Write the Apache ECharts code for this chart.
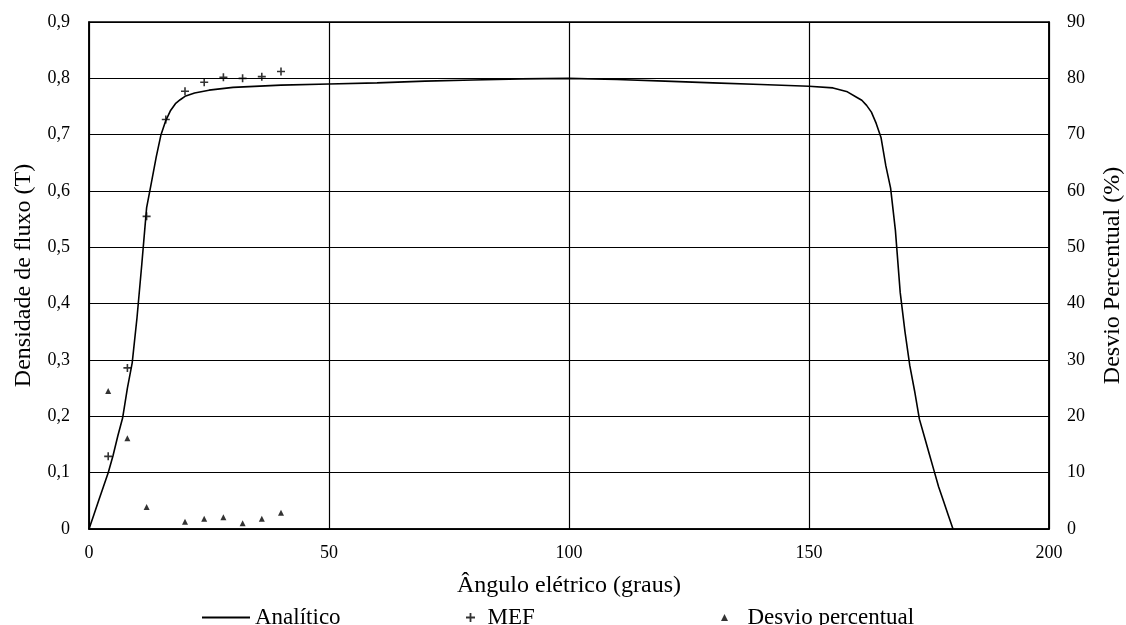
<!DOCTYPE html>
<html>
<head>
<meta charset="utf-8">
<script src="https://cdn.jsdelivr.net/npm/echarts@6/dist/echarts.min.js"></script>
<style>
html,body{margin:0;padding:0;background:#fff;}
#c{width:1126px;height:625px;}
</style>
</head>
<body>
<div id="c"></div>
<script>
const analyticX = [0,1,2,3,4,5,6,7,8,9,10,11,12,13,14,15,16,17,18,19,20,22,25,30,40,50,60,70,80,90,100,110,120,130,140,150,155,158,160,161,162,163,164,165,166,167,168,169,170,171,172,173,174,175,176,177,178,179,180];
const analyticY = [0,0.025,0.05,0.075,0.1,0.13,0.165,0.197,0.25,0.295,0.375,0.47,0.57,0.615,0.66,0.7,0.725,0.743,0.755,0.762,0.768,0.774,0.779,0.784,0.788,0.79,0.792,0.795,0.797,0.799,0.8,0.798,0.795,0.792,0.789,0.786,0.783,0.776,0.766,0.761,0.752,0.74,0.72,0.695,0.645,0.605,0.53,0.42,0.35,0.29,0.245,0.195,0.165,0.135,0.105,0.075,0.05,0.025,0];
const mefX = [4,8,12,16,20,24,28,32,36,40];
const mefY = [0.129,0.286,0.555,0.727,0.777,0.793,0.802,0.8,0.803,0.812];
const desvioX = [4,8,12,20,24,28,32,36,40];
const desvioY = [24.5,16.1,3.9,1.3,1.8,2.1,1.0,1.8,2.9];

const FONT = '"Liberation Serif", "DejaVu Serif", serif';
const plusPath = 'path://M4,0h2v4h4v2h-4v4h-2v-4h-4v-2h4z';
const triPath = 'path://M5,0L10,10L0,10z';

const chart = echarts.init(document.getElementById('c'));
chart.setOption({
  backgroundColor: '#fff',
  animation: false,
  textStyle: {fontFamily: FONT, color: '#000'},
  grid: {left: 89, right: 77, top: 22, bottom: 96, show: true, borderColor: '#000', borderWidth: 1.5, containLabel: false, outerBoundsMode: 'none'},
  legend: [
    {left: 197, top: 601, itemWidth: 48, itemHeight: 2, symbolKeepAspect: false, textStyle: {fontFamily: FONT, fontSize: 23, color: '#000'}, data: [{name: 'Analítico', icon: 'rect'}]},
    {left: 461, top: 601, itemWidth: 24, itemHeight: 9, symbolKeepAspect: true, textStyle: {fontFamily: FONT, fontSize: 23, color: '#000'}, data: [{name: 'MEF', icon: plusPath}]},
    {left: 716, top: 601, itemWidth: 36, itemHeight: 7, symbolKeepAspect: true, textStyle: {fontFamily: FONT, fontSize: 23, color: '#000'}, data: [{name: 'Desvio percentual', icon: triPath}]}
  ],
  xAxis: {
    type: 'value', min: 0, max: 200, interval: 50,
    name: 'Ângulo elétrico (graus)', nameLocation: 'middle', nameGap: 45,
    nameTextStyle: {fontFamily: FONT, fontSize: 24, color: '#000'},
    axisLine: {show: true, lineStyle: {color: '#000', width: 1.5}},
    axisTick: {show: false},
    axisLabel: {fontFamily: FONT, fontSize: 18, color: '#000', margin: 15},
    splitLine: {show: true, lineStyle: {color: '#000', width: 1.2}}
  },
  yAxis: [
    {
      type: 'value', min: 0, max: 0.9, interval: 0.1, position: 'left',
      name: 'Densidade de fluxo (T)', nameLocation: 'middle', nameGap: 53,
      nameTextStyle: {fontFamily: FONT, fontSize: 24, color: '#000'},
      axisLine: {show: true, lineStyle: {color: '#000', width: 1.5}},
      axisTick: {show: false},
      axisLabel: {fontFamily: FONT, fontSize: 18, color: '#000', margin: 19,
        formatter: v => (Math.abs(v) < 1e-9 ? '0' : v.toFixed(1).replace('.', ','))},
      splitLine: {show: true, lineStyle: {color: '#000', width: 1.2}}
    },
    {
      type: 'value', min: 0, max: 90, interval: 10, position: 'right',
      name: 'Desvio Percentual (%)', nameLocation: 'middle', nameGap: 52,
      nameTextStyle: {fontFamily: FONT, fontSize: 24, color: '#000'},
      axisLine: {show: true, lineStyle: {color: '#000', width: 1.5}},
      axisTick: {show: false},
      axisLabel: {fontFamily: FONT, fontSize: 18, color: '#000', margin: 18},
      splitLine: {show: false}
    }
  ],
  series: [
    {
      name: 'Analítico', type: 'line', yAxisIndex: 0, showSymbol: false, symbol: 'none',
      smooth: false, lineStyle: {color: '#000', width: 1.6}, itemStyle: {color: '#000'},
      data: analyticX.map((x, i) => [x, analyticY[i]]), z: 3
    },
    {
      name: 'MEF', type: 'scatter', yAxisIndex: 0, symbol: plusPath, symbolSize: 8,
      itemStyle: {color: '#000'}, data: mefX.map((x, i) => [x, mefY[i]]), z: 4
    },
    {
      name: 'Desvio percentual', type: 'scatter', yAxisIndex: 1, symbol: triPath, symbolSize: 6,
      itemStyle: {color: '#000'}, data: desvioX.map((x, i) => [x, desvioY[i]]), z: 4
    }
  ]
});
</script>
</body>
</html>
